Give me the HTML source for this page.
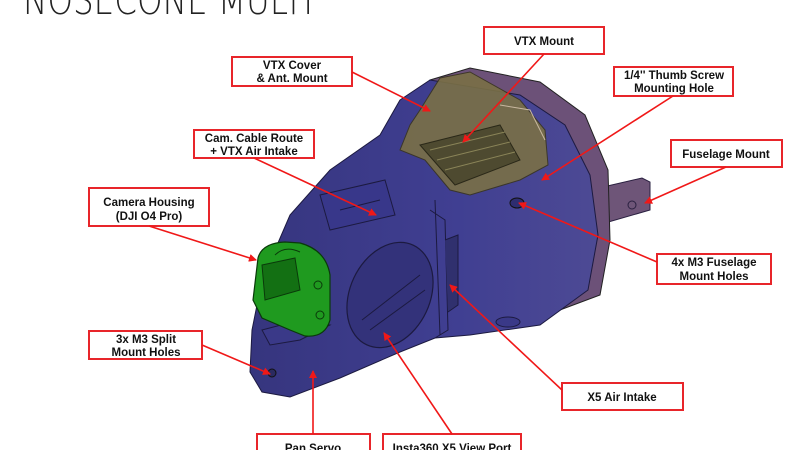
<!DOCTYPE html>
<html><head><meta charset="utf-8"><style>
html,body{margin:0;padding:0;background:#fff;width:800px;height:450px;overflow:hidden}
svg{display:block}
.lb{font-family:"Liberation Sans",sans-serif;font-weight:bold;font-size:11.5px;fill:#111;text-anchor:middle}
.bx{fill:#fff;stroke:#e8252a;stroke-width:2}
.ln{stroke:#f01818;stroke-width:1.6;fill:none;marker-end:url(#ah)}
</style></head><body>
<svg width="800" height="450" viewBox="0 0 800 450" xmlns="http://www.w3.org/2000/svg">
<defs>
<marker id="ah" markerWidth="8" markerHeight="8" refX="7" refY="4" orient="auto" markerUnits="userSpaceOnUse"><path d="M0,0 L8,4 L0,8 z" fill="#f01818"/></marker>
<linearGradient id="bg" x1="0" y1="0" x2="1" y2="0"><stop offset="0" stop-color="#36357e"/><stop offset="0.6" stop-color="#403f92"/><stop offset="1" stop-color="#4d4a94"/></linearGradient>
</defs>
<text x="23" y="14" font-family="'DejaVu Sans','Liberation Sans',sans-serif" font-size="40" font-weight="200" fill="#222" textLength="290" lengthAdjust="spacingAndGlyphs">NOSECONE MULTI</text>
<!-- fuselage mount tab -->
<path d="M590,190 L642,178 L650,182 L650,210 L598,225 Z" fill="#6e5578" stroke="#2a2040" stroke-width="1"/>
<circle cx="632" cy="205" r="4" fill="none" stroke="#2a2040"/>
<!-- rear mauve shell -->
<path d="M430,80 L470,68 L540,82 L585,115 L608,170 L610,240 L600,295 L560,310 L470,300 Z" fill="#6c5178" stroke="#222" stroke-width="1"/>
<!-- main body -->
<path d="M400,100 L430,80 L520,95 L565,125 L590,175 L598,235 L588,290 L540,325 L470,335 L435,338 L400,352 L340,378 L290,397 L262,392 L250,372 L252,330 L262,280 L290,215 L330,170 L380,135 Z" fill="url(#bg)" stroke="#1c1a40" stroke-width="1"/>
<path d="M435,200 L440,335" stroke="#1c1a40" fill="none"/>
<path d="M430,210 L445,220 L448,330 L435,338" stroke="#1c1a40" fill="none"/>
<path d="M445,240 L458,235 L458,305 L448,312" fill="#30306e" stroke="#1c1a40"/>
<ellipse cx="390" cy="295" rx="40" ry="55" transform="rotate(25 390 295)" fill="#33327a" stroke="#1c1a40" stroke-width="1.2"/>
<path d="M362,320 L420,275 M370,330 L425,290" stroke="#1c1a40"/>
<path d="M320,195 L385,180 L395,215 L330,230 Z" fill="#38378a" stroke="#1c1a40"/>
<path d="M340,210 L380,200" stroke="#1c1a40"/>
<path d="M262,330 L300,320 L330,325 L300,340 L270,345 Z" fill="#3a3988" stroke="#1c1a40"/>
<circle cx="272" cy="373" r="4" fill="#2a2a60" stroke="#111"/>
<!-- VTX tan cover -->
<path d="M440,78 L470,72 L520,100 L545,130 L548,165 L520,180 L470,195 L450,190 L425,160 L400,150 L410,125 L420,110 Z" fill="#7a7046" stroke="#3a3520" stroke-width="1" opacity="0.9"/>
<path d="M420,145 L500,125 L520,160 L455,185 Z" fill="#4e4a30" stroke="#2a2818"/>
<path d="M430,150 L505,132 M437,160 L510,142 M445,170 L515,152" stroke="#8a8458"/>
<path d="M500,105 L530,110 L545,140" stroke="#c8b8a0" fill="none"/>
<ellipse cx="517" cy="203" rx="7" ry="5" fill="#2e2d70" stroke="#111"/>
<ellipse cx="508" cy="322" rx="12" ry="5" fill="#3a3988" stroke="#1c1a40"/>
<!-- green camera -->
<path d="M258,258 Q262,243 285,242 L300,243 Q326,250 330,275 L330,320 Q325,338 305,336 L290,330 L262,318 L253,300 Z" fill="#1f9a1f" stroke="#0a3a0a" stroke-width="1.2"/>
<path d="M262,265 L295,258 L300,290 L265,300 Z" fill="#137013" stroke="#0a3a0a"/>
<path d="M275,255 Q285,245 300,252" stroke="#0a3a0a" fill="none"/>
<circle cx="318" cy="285" r="4" fill="none" stroke="#0a3a0a"/>
<circle cx="320" cy="315" r="4" fill="none" stroke="#0a3a0a"/>
<!-- label boxes -->
<rect class="bx" x="484" y="27" width="120" height="27"/><text class="lb" x="544" y="45">VTX Mount</text>
<rect class="bx" x="232" y="57" width="120" height="29"/><text class="lb" x="292" y="69">VTX Cover</text><text class="lb" x="292" y="82">&amp; Ant. Mount</text>
<rect class="bx" x="614" y="67" width="119" height="29"/><text class="lb" x="674" y="79">1/4'' Thumb Screw</text><text class="lb" x="674" y="92">Mounting Hole</text>
<rect class="bx" x="194" y="130" width="120" height="28"/><text class="lb" x="254" y="142">Cam. Cable Route</text><text class="lb" x="254" y="155">+ VTX Air Intake</text>
<rect class="bx" x="671" y="140" width="111" height="27"/><text class="lb" x="726" y="158">Fuselage Mount</text>
<rect class="bx" x="89" y="188" width="120" height="38"/><text class="lb" x="149" y="206">Camera Housing</text><text class="lb" x="149" y="220">(DJI O4 Pro)</text>
<rect class="bx" x="657" y="254" width="114" height="30"/><text class="lb" x="714" y="266">4x M3 Fuselage</text><text class="lb" x="714" y="280">Mount Holes</text>
<rect class="bx" x="89" y="331" width="113" height="28"/><text class="lb" x="146" y="343">3x M3 Split</text><text class="lb" x="146" y="356">Mount Holes</text>
<rect class="bx" x="562" y="383" width="121" height="27"/><text class="lb" x="622" y="401">X5 Air Intake</text>
<rect class="bx" x="257" y="434" width="113" height="30"/><text class="lb" x="313" y="452">Pan Servo</text>
<rect class="bx" x="383" y="434" width="138" height="30"/><text class="lb" x="452" y="452">Insta360 X5 View Port</text>
<line class="ln" x1="544" y1="54" x2="463" y2="142"/>
<line class="ln" x1="352" y1="72" x2="430" y2="111"/>
<line class="ln" x1="673" y1="96" x2="542" y2="180"/>
<line class="ln" x1="254" y1="158" x2="376" y2="215"/>
<line class="ln" x1="726" y1="167" x2="645" y2="203"/>
<line class="ln" x1="149" y1="226" x2="256" y2="260"/>
<line class="ln" x1="657" y1="262" x2="519" y2="203"/>
<line class="ln" x1="202" y1="345" x2="270" y2="374"/>
<line class="ln" x1="562" y1="390" x2="450" y2="285"/>
<line class="ln" x1="313" y1="434" x2="313" y2="371"/>
<line class="ln" x1="452" y1="434" x2="384" y2="333"/>
</svg>
</body></html>
